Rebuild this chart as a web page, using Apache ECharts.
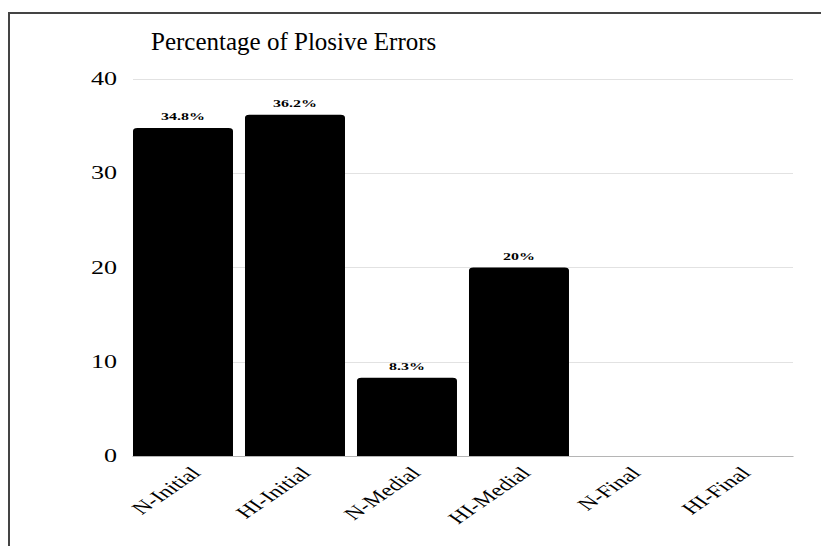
<!DOCTYPE html>
<html>
<head>
<meta charset="utf-8">
<script src="https://cdn.jsdelivr.net/npm/echarts@6/dist/echarts.min.js"></script>
<style>
  html, body { margin: 0; padding: 0; background: #fff; overflow: hidden; }
  .frame {
    position: absolute;
    left: 8px;
    top: 12px;
    width: 813px;
    height: 534px;
    border-top: 2px solid #444;
    border-left: 2px solid #444;
    box-sizing: border-box;
  }
  /* the source picture is stretched sideways, so the plot is drawn narrow and widened */
  #chart {
    position: absolute;
    left: 0;
    top: 0;
    width: 566px;
    height: 546px;
    transform: scaleX(1.4505);
    transform-origin: 0 0;
  }
  #title { position: absolute; left: 0; top: 0; width: 821px; height: 546px; pointer-events: none; }
</style>
</head>
<body>
<div class="frame"></div>
<div id="chart"></div>
<div id="title"></div>
<script>
// categories and values
const categories = ['N-Initial', 'HI-Initial', 'N-Medial', 'HI-Medial', 'N-Final', 'HI-Final']
const errorPct = [34.8, 36.2, 8.3, 20, 0, 0]
const pctLabels = ['34.8%', '36.2%', '8.3%', '20%', '', '']
const yTicks = [0, 10, 20, 30, 40]

const serif = '"Liberation Serif", "DejaVu Serif", serif'
const sx = 821 / 566
const W = 566
// pixel targets on the final (stretched) picture
const u = (px) => px / sx

const myChart = echarts.init(document.getElementById('chart'), null, { renderer: 'svg' })
myChart.setOption({
  animation: false,
  grid: [
    // bars: flush with the plot edges
    { left: u(127), right: W - u(799), top: 79, bottom: 90 },
    // axes and split lines
    { left: u(133), right: W - u(793), top: 79, bottom: 90 },
    // category names sit a little right of the bar centres
    { left: u(141), right: W - u(801), top: 79, bottom: 90 }
  ],
  xAxis: [
    {
      type: 'category',
      gridIndex: 0,
      data: categories,
      show: false
    },
    {
      type: 'category',
      gridIndex: 1,
      data: categories,
      axisLine: {
        lineStyle: { color: '#b5b5b5' }
      },
      axisTick: { show: false },
      axisLabel: { show: false }
    },
    {
      type: 'category',
      gridIndex: 2,
      data: categories,
      axisLine: { show: false },
      axisTick: { show: false },
      axisLabel: {
        rotate: 45,
        interval: 0,
        margin: 14,
        fontFamily: serif,
        fontSize: 17,
        color: '#000'
      }
    }
  ],
  yAxis: [
    {
      type: 'value',
      gridIndex: 0,
      min: yTicks[0],
      max: yTicks[yTicks.length - 1],
      show: false
    },
    {
      type: 'value',
      gridIndex: 1,
      min: yTicks[0],
      max: yTicks[yTicks.length - 1],
      interval: 10,
      axisLine: { show: false },
      axisTick: { show: false },
      axisLabel: {
        margin: 11,
        fontFamily: serif,
        fontSize: 18,
        color: '#000'
      },
      splitLine: {
        lineStyle: { color: '#e2e2e2', width: 1 }
      }
    },
    {
      type: 'value',
      gridIndex: 2,
      min: yTicks[0],
      max: yTicks[yTicks.length - 1],
      show: false
    }
  ],
  series: [
    {
      type: 'bar',
      xAxisIndex: 0,
      yAxisIndex: 0,
      data: errorPct,
      barWidth: u(100),
      itemStyle: {
        color: '#000',
        borderRadius: [3, 3, 0, 0]
      },
      label: {
        show: true,
        position: 'top',
        distance: 6,
        fontFamily: serif,
        fontSize: 11,
        fontWeight: 'bold',
        color: '#000',
        formatter: (p) => pctLabels[p.dataIndex]
      },
      z: 3
    }
  ]
})

const titleChart = echarts.init(document.getElementById('title'), null, { renderer: 'svg' })
titleChart.setOption({
  animation: false,
  title: {
    text: 'Percentage of Plosive Errors',
    left: 146,
    top: 24,
    textStyle: {
      fontFamily: serif,
      fontSize: 25,
      fontWeight: 'normal',
      color: '#000'
    }
  }
})
</script>
</body>
</html>
